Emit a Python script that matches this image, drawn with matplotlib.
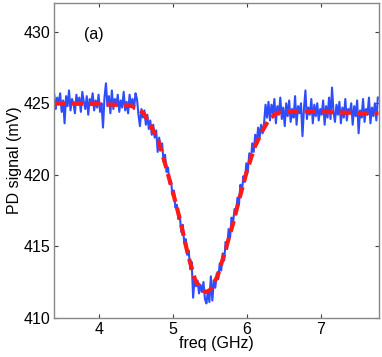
import numpy as np
import matplotlib
matplotlib.use('Agg')
import matplotlib.pyplot as plt

plt.rcParams['font.family'] = ['Liberation Sans', 'DejaVu Sans']

# measured PD signal (mV), sampled every 0.02 GHz from 3.39 GHz
signal = [
    # flat part, left
    425.6, 424.6, 425.4, 424.9, 425.7, 424.4, 425.2, 423.6, 425.5, 424.8,
    425.9, 424.5, 425.3, 425.0, 424.3, 425.6, 424.9, 425.4, 424.4, 425.8,
    425.1, 424.6, 425.5, 424.2, 425.3, 424.9, 425.7, 424.5, 425.2, 424.7,
    425.6, 424.4, 425.0, 423.3, 425.4, 426.4, 424.8, 425.5, 424.3, 425.9,
    424.6, 425.3, 424.9, 425.6, 424.4, 425.2, 424.7, 425.8, 424.5, 425.1,
    424.3, 425.6, 424.8, 425.3, 424.6, 425.7,
    # falling edge
    425.3, 424.2, 423.4, 424.6, 424.0, 424.5, 423.5, 424.2, 423.2, 423.8,
    422.8, 423.5, 422.6, 423.1, 421.6, 422.6, 421.7, 422.2, 420.9, 421.4,
    420.2, 420.5, 419.4, 419.6, 418.6, 418.9, 417.7, 417.9, 416.9, 417.1,
    416.0, 416.5, 415.2, 415.5, 414.4, 414.7, 413.4, 413.9, 411.4, 412.8,
    412.2, 412.6, 411.7, 412.3, 411.8, 412.5, 411.3,
    # rising edge
    411.0, 411.9, 411.1, 412.9, 411.2, 412.6, 412.1, 413.1, 412.7, 413.8,
    413.3, 414.5, 414.0, 415.3, 414.8, 416.2, 415.6, 417.0, 416.6, 417.6,
    417.2, 418.4, 417.9, 419.3, 418.8, 419.9, 419.5, 420.8, 420.2, 421.5,
    420.9, 422.2, 421.6, 422.8, 422.2, 423.3, 422.6, 423.5, 422.9, 423.6,
    424.9,
    # flat part, right
    424.0, 425.1, 423.8, 424.9, 424.3, 425.3, 423.6, 424.8, 424.2, 425.4,
    423.9, 424.7, 423.4, 425.0, 424.1, 425.2, 423.7, 424.6, 424.0, 425.5,
    423.5, 424.8, 424.3, 425.0, 422.7, 424.6, 425.9, 423.9, 424.7, 424.2,
    425.3, 423.6, 424.9, 424.1, 425.0, 423.8, 424.6, 424.2, 425.2, 423.5,
    424.8, 424.0, 425.4, 423.9, 426.1, 424.4, 423.7, 424.9, 424.2, 425.1,
    423.6, 424.7, 424.0, 425.3, 423.8, 424.6, 424.3, 425.0, 423.5, 424.8,
    424.1, 425.2, 422.9, 424.5, 424.0, 425.3, 423.7, 424.6, 424.2, 425.4,
    423.6, 424.7, 424.1, 425.0, 423.8, 425.4,
]
freq = 3.39 + 0.02 * np.arange(len(signal))

# fitted curve
fit_freq = [3.39, 3.6, 3.8, 4.0, 4.2, 4.4, 4.5, 4.6, 4.7, 4.8, 4.9, 5.0, 5.1,
            5.2, 5.3, 5.4, 5.45, 5.5, 5.6, 5.7, 5.8, 5.9, 6.0, 6.1, 6.2, 6.3,
            6.4, 6.5, 6.7, 7.0, 7.3, 7.6, 7.78]
fit_sig = [425.0, 425.0, 424.95, 424.95, 424.9, 424.85, 424.7, 424.3, 423.4,
           422.4, 420.6, 418.7, 416.7, 414.4, 412.6, 411.9, 411.8, 411.95,
           412.9, 414.6, 416.4, 418.4, 420.3, 421.9, 423.0, 423.9, 424.3,
           424.45, 424.45, 424.4, 424.35, 424.3, 424.3]

fig = plt.figure(figsize=(3.82, 3.57), dpi=100)
ax = fig.add_axes([0.142, 0.110, 0.849, 0.881])

ax.plot(freq, signal, color='#2e4dff', lw=1.5)
ax.plot(fit_freq, fit_sig, color='#ff1a1a', lw=3.0, ls=(0, (2.7, 1.5)))

ax.set_xlim(3.39, 7.78)
ax.set_ylim(410, 432)
ax.set_xticks([4, 5, 6, 7])
ax.set_yticks([410, 415, 420, 425, 430])
ax.tick_params(direction='in', top=True, right=True, labelsize=11.5,
               length=3, color='#404040', pad=3)
for s in ax.spines.values():
    s.set_color('#888888')
    s.set_linewidth(1.0)

ax.set_xlabel('freq (GHz)', fontsize=11.5, labelpad=-1)
ax.set_ylabel('PD signal (mV)', fontsize=11.5, labelpad=1)
ax.text(3.92, 429.8, '(a)', fontsize=11.5, ha='center', va='center')

fig.savefig('out.png', dpi=100)
